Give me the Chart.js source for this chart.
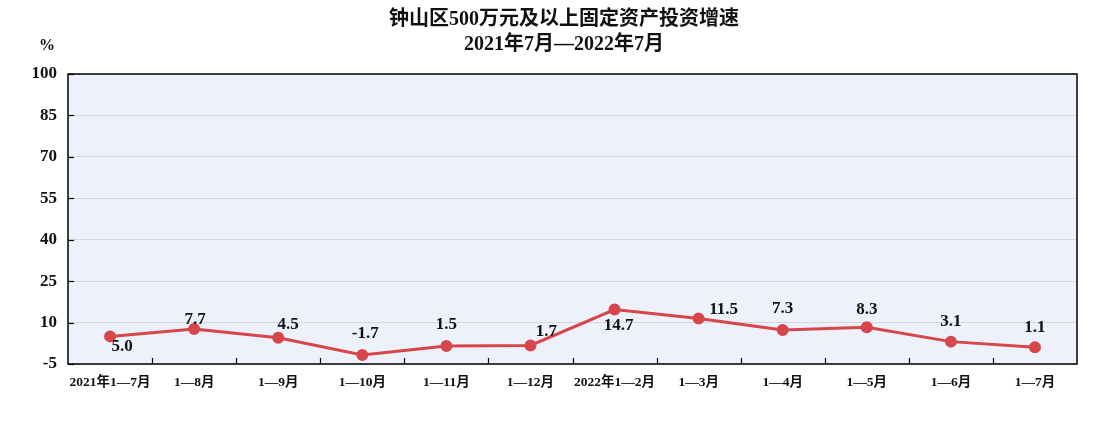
<!DOCTYPE html>
<html lang="zh-CN">
<head>
    <meta charset="UTF-8">
    <title>钟山区500万元及以上固定资产投资增速</title>
    <script src="https://cdn.jsdelivr.net/npm/chart.js"></script>
    <style>
        html, body { margin: 0; padding: 0; background: #fff; }
        #wrap { width: 1100px; height: 422px; position: relative; }
    </style>
</head>
<body>
    <div id="wrap"><canvas id="growthChart"></canvas></div>

    <script>
        // 数据
        const titleLines = ['钟山区500万元及以上固定资产投资增速', '2021年7月—2022年7月'];
        const unitLabel = '%';
        const periods = ['2021年1—7月', '1—8月', '1—9月', '1—10月', '1—11月', '1—12月',
                         '2022年1—2月', '1—3月', '1—4月', '1—5月', '1—6月', '1—7月'];
        const growth = [5.0, 7.7, 4.5, -1.7, 1.5, 1.7, 14.7, 11.5, 7.3, 8.3, 3.1, 1.1];
        const yMin = -5, yMax = 100, yStep = 15;

        // 数值标签相对数据点的偏移 (样式)
        const labelShift = [[12, 10], [1, -9], [10, -13], [3, -21], [0, -21], [16, -14],
                            [4, 16], [25, -9], [0, -21], [0, -18], [0, -20], [0, -20]];

        const FONT = '"Liberation Serif", "Noto Sans CJK SC", serif';
        const lineColor = '#D6464B';

        const framePlugin = {
            id: 'frame',
            beforeDraw(chart) {
                const { ctx, chartArea: a } = chart;
                ctx.save();
                ctx.fillStyle = '#EDF1FC';
                ctx.fillRect(a.left, a.top, a.right - a.left, a.bottom - a.top);
                ctx.restore();
            },
            afterDatasetsDraw(chart) {
                const { ctx, chartArea: a, scales } = chart;
                ctx.save();
                // 边框
                ctx.strokeStyle = '#000';
                ctx.lineWidth = 1.5;
                ctx.strokeRect(a.left, a.top, a.right - a.left, a.bottom - a.top);
                // y 轴内刻度
                ctx.lineWidth = 1.2;
                scales.y.ticks.forEach(t => {
                    const y = Math.round(scales.y.getPixelForValue(t.value)) + 0.5;
                    ctx.beginPath();
                    ctx.moveTo(a.left, y);
                    ctx.lineTo(a.left + 6, y);
                    ctx.stroke();
                });
                // x 轴内刻度 (分类之间)
                for (let i = 1; i < periods.length; i++) {
                    const x = Math.round((scales.x.getPixelForValue(i - 1) + scales.x.getPixelForValue(i)) / 2) + 0.5;
                    ctx.beginPath();
                    ctx.moveTo(x, a.bottom);
                    ctx.lineTo(x, a.bottom - 6);
                    ctx.stroke();
                }
                // 数值标签
                const meta = chart.getDatasetMeta(0);
                ctx.fillStyle = '#111';
                ctx.font = 'bold 17px ' + FONT;
                ctx.textAlign = 'center';
                ctx.textBaseline = 'middle';
                meta.data.forEach((pt, i) => {
                    ctx.fillText(growth[i].toFixed(1), pt.x + labelShift[i][0], pt.y + labelShift[i][1]);
                });
                // 标题与单位
                ctx.font = 'bold 20px ' + FONT;
                ctx.fillText(titleLines[0], 564, 20);
                ctx.fillText(titleLines[1], 564, 45);
                ctx.font = 'bold 16px ' + FONT;
                ctx.fillText(unitLabel, 47, 46);
                ctx.restore();
            }
        };

        const ctx = document.getElementById('growthChart').getContext('2d');
        new Chart(ctx, {
            type: 'line',
            data: {
                labels: periods,
                datasets: [{
                    data: growth,
                    borderColor: lineColor,
                    backgroundColor: lineColor,
                    borderWidth: 3,
                    pointRadius: 4.5,
                    pointHoverRadius: 4.5,
                    tension: 0
                }]
            },
            options: {
                responsive: true,
                maintainAspectRatio: false,
                animation: false,
                layout: { padding: { top: 74, right: 23, left: 0, bottom: 0 } },
                plugins: { legend: { display: false }, tooltip: { enabled: false }, title: { display: false } },
                scales: {
                    x: {
                        offset: true,
                        grid: { display: false, drawTicks: false },
                        border: { display: false },
                        ticks: {
                            color: '#111',
                            font: { family: FONT, size: 13.5, weight: 'bold' },
                            padding: 10,
                            maxRotation: 0,
                            autoSkip: false
                        },
                        afterFit(scale) { scale.height = 58; }
                    },
                    y: {
                        min: yMin,
                        max: yMax,
                        grid: { color: '#D8D8DC', lineWidth: 1, drawTicks: false },
                        border: { display: false },
                        ticks: {
                            stepSize: yStep,
                            color: '#111',
                            font: { family: FONT, size: 17, weight: 'bold' },
                            padding: 11
                        },
                        afterFit(scale) { scale.width = 68; }
                    }
                }
            },
            plugins: [framePlugin]
        });
    </script>
</body>
</html>
